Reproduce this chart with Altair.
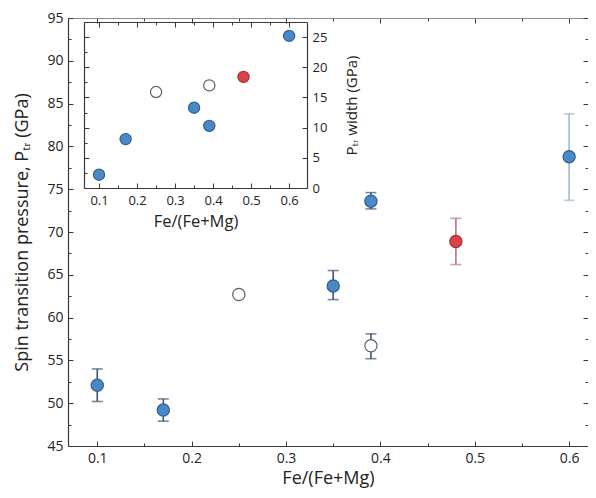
import altair as alt
import pandas as pd

# ---- data ----
fe = [0.10, 0.17, 0.25, 0.35, 0.39, 0.39, 0.48, 0.60]
ptr = [52.1, 49.2, 62.7, 63.7, 73.6, 56.7, 68.9, 78.8]
ptr_lo = [50.2, 47.9, None, 62.1, 72.7, 55.2, 66.2, 73.7]
ptr_hi = [54.0, 50.5, None, 65.5, 74.6, 58.1, 71.6, 83.8]
ptr_width = [2.2, 8.1, 15.9, 13.3, 10.3, 17.0, 18.4, 25.2]
kind = ["filled", "filled", "open", "filled", "filled", "open", "red", "filled"]
err_kind = ["dark", "dark", "dark", "dark", "dark", "dark", "red", "light"]

x_ticks = [0.1, 0.15, 0.2, 0.25, 0.3, 0.35, 0.4, 0.45, 0.5, 0.55, 0.6]
y_ticks = [45, 47.5, 50, 52.5, 55, 57.5, 60, 62.5, 65, 67.5, 70, 72.5, 75, 77.5,
           80, 82.5, 85, 87.5, 90, 92.5, 95]
inset_y_ticks = [0, 2.5, 5, 7.5, 10, 12.5, 15, 17.5, 20, 22.5, 25, 27.5]

df = pd.DataFrame({"fe": fe, "ptr": ptr, "lo": ptr_lo, "hi": ptr_hi,
                   "w": ptr_width, "kind": kind, "ek": err_kind})
err_df = df.dropna(subset=["lo"])

W, H = 520, 428
PT = 10
FONT = "Open Sans"
AX = "#3a3a3a"

fill_scale = alt.Scale(domain=["filled", "open", "red"], range=["#4a88c8", "#ffffff", "#d9414b"])
stroke_scale = alt.Scale(domain=["filled", "open", "red"], range=["#2f5f8c", "#56606c", "#a83038"])
err_scale = alt.Scale(domain=["dark", "red", "light"], range=["#3d5675", "#b47a7a", "#a3b8cc"])

xmain = alt.Scale(domain=[0.069, 0.620], nice=False, zero=False)
ymain = alt.Scale(domain=[45, 95], nice=False, zero=False)

MAJOR_X = "abs(datum.value*10 - round(datum.value*10)) < 0.001"
MAJOR_Y5 = "abs(datum.value/5 - round(datum.value/5)) < 0.001"

def tsize(test):
    return {"condition": {"test": test, "value": -5}, "value": -3}

def xaxis(orient, labels, offset=0, title=None, values=x_ticks, fs=14, tfs=17, pad=10,
          tpad=6, domain=False, dcolor=AX):
    kw = dict(orient=orient, values=values, tickSize=tsize(MAJOR_X), tickColor=AX,
              domain=domain, domainColor=dcolor, domainWidth=1.2, labels=labels,
              grid=False, offset=offset,
              labelFont=FONT, labelFontSize=fs, labelColor="#222",
              labelExpr=f"{MAJOR_X} ? format(datum.value, '.1f') : ''",
              labelPadding=pad)
    if title:
        kw.update(title=title, titleFont=FONT, titleFontSize=tfs, titleFontWeight="normal",
                  titleColor="#222", titlePadding=tpad)
    else:
        kw.update(title=None)
    return alt.Axis(**kw)

def yaxis(orient, labels, values, offset=0, title=None, fs=14, tfs=17, pad=10,
          tpad=6, tangle=None, domain=False):
    kw = dict(orient=orient, values=values, tickSize=tsize(MAJOR_Y5), tickColor=AX,
              domain=domain, domainColor=AX, domainWidth=1.2, labels=labels,
              grid=False, offset=offset,
              labelFont=FONT, labelFontSize=fs, labelColor="#222",
              labelExpr=f"{MAJOR_Y5} ? datum.label : ''",
              labelPadding=pad)
    if title:
        kw.update(title=title, titleFont=FONT, titleFontSize=tfs, titleFontWeight="normal",
                  titleColor="#222", titlePadding=tpad)
        if tangle is not None:
            kw.update(titleAngle=tangle)
    else:
        kw.update(title=None)
    return alt.Axis(**kw)

# ---- main panel ----
main_pts = alt.Chart(df).mark_point(filled=False, size=150, strokeWidth=1.2, opacity=1).encode(
    x=alt.X("fe:Q", scale=xmain,
            axis=xaxis("bottom", True, title="Fe/(Fe+Mg)", tfs=18, tpad=4, domain=True)),
    y=alt.Y("ptr:Q", scale=ymain,
            axis=yaxis("left", True, y_ticks, title="Spin transition pressure, Pₜᵣ (GPa)",
                       tfs=18, tpad=15, domain=True)),
    fill=alt.Fill("kind:N", scale=fill_scale, legend=None),
    stroke=alt.Stroke("kind:N", scale=stroke_scale, legend=None),
    shape=alt.value("circle"),
)

err_rule = alt.Chart(err_df).mark_rule(strokeWidth=1.6).encode(
    x=alt.X("fe:Q", scale=xmain, axis=xaxis("top", False, domain=True, dcolor="#8a8a8a")),
    y=alt.Y("lo:Q", scale=ymain, axis=yaxis("right", False, y_ticks)),
    y2="hi:Q",
    color=alt.Color("ek:N", scale=err_scale, legend=None),
)
err_lo = alt.Chart(err_df).mark_tick(orient="horizontal", size=11, thickness=1.6).encode(
    x=alt.X("fe:Q", scale=xmain, axis=None),
    y=alt.Y("lo:Q", scale=ymain, axis=None),
    color=alt.Color("ek:N", scale=err_scale, legend=None),
)
err_hi = alt.Chart(err_df).mark_tick(orient="horizontal", size=11, thickness=1.6).encode(
    x=alt.X("fe:Q", scale=xmain, axis=None),
    y=alt.Y("hi:Q", scale=ymain, axis=None),
    color=alt.Color("ek:N", scale=err_scale, legend=None),
)

main = alt.layer(err_rule, err_lo, err_hi, main_pts).resolve_axis(x="independent", y="independent")

# ---- inset panel ----
IN_TOP, IN_BOT = 22 - 8 - PT, 188 - 8 - PT
xin = alt.Scale(domain=[0.0605, 0.647], range=[16, 239], nice=False, zero=False)
yin = alt.Scale(domain=[0, 27.5], range=[IN_BOT, IN_TOP], nice=False, zero=False)

inset_pts = alt.Chart(df).mark_point(filled=False, size=125, strokeWidth=1.2, opacity=1).encode(
    x=alt.X("fe:Q", scale=xin,
            axis=xaxis("bottom", True, offset=-(H - IN_BOT), title="Fe/(Fe+Mg)",
                       fs=13, tfs=16.5, pad=11, tpad=6, domain=True)),
    y=alt.Y("w:Q", scale=yin,
            axis=yaxis("right", True, [0, 5, 10, 15, 20, 25], offset=-(W - 239),
                       title="Pₜᵣ width (GPa)", fs=13, tfs=15, pad=10,
                       tpad=33, tangle=270, domain=True)),
    fill=alt.Fill("kind:N", scale=fill_scale, legend=None),
    stroke=alt.Stroke("kind:N", scale=stroke_scale, legend=None),
    shape=alt.value("circle"),
)
inset_frame = alt.Chart(df).mark_point(opacity=0).encode(
    x=alt.X("fe:Q", scale=xin, axis=xaxis("top", False, offset=-IN_TOP, domain=True)),
    y=alt.Y("w:Q", scale=yin,
            axis=yaxis("left", False, inset_y_ticks, offset=-16, domain=True)),
)
inset = alt.layer(inset_frame, inset_pts).resolve_axis(x="independent", y="independent")

chart = alt.layer(main, inset).resolve_scale(
    x="independent", y="independent", fill="independent", stroke="independent"
).resolve_axis(x="independent", y="independent").properties(
    width=W, height=H,
    autosize=alt.AutoSizeParams(type="none"),
    padding={"left": 60, "top": PT, "right": 0, "bottom": 44},
).configure_view(stroke=None).configure(background="white")

chart.save("out.html", embed_options={"renderer": "svg", "actions": False})
